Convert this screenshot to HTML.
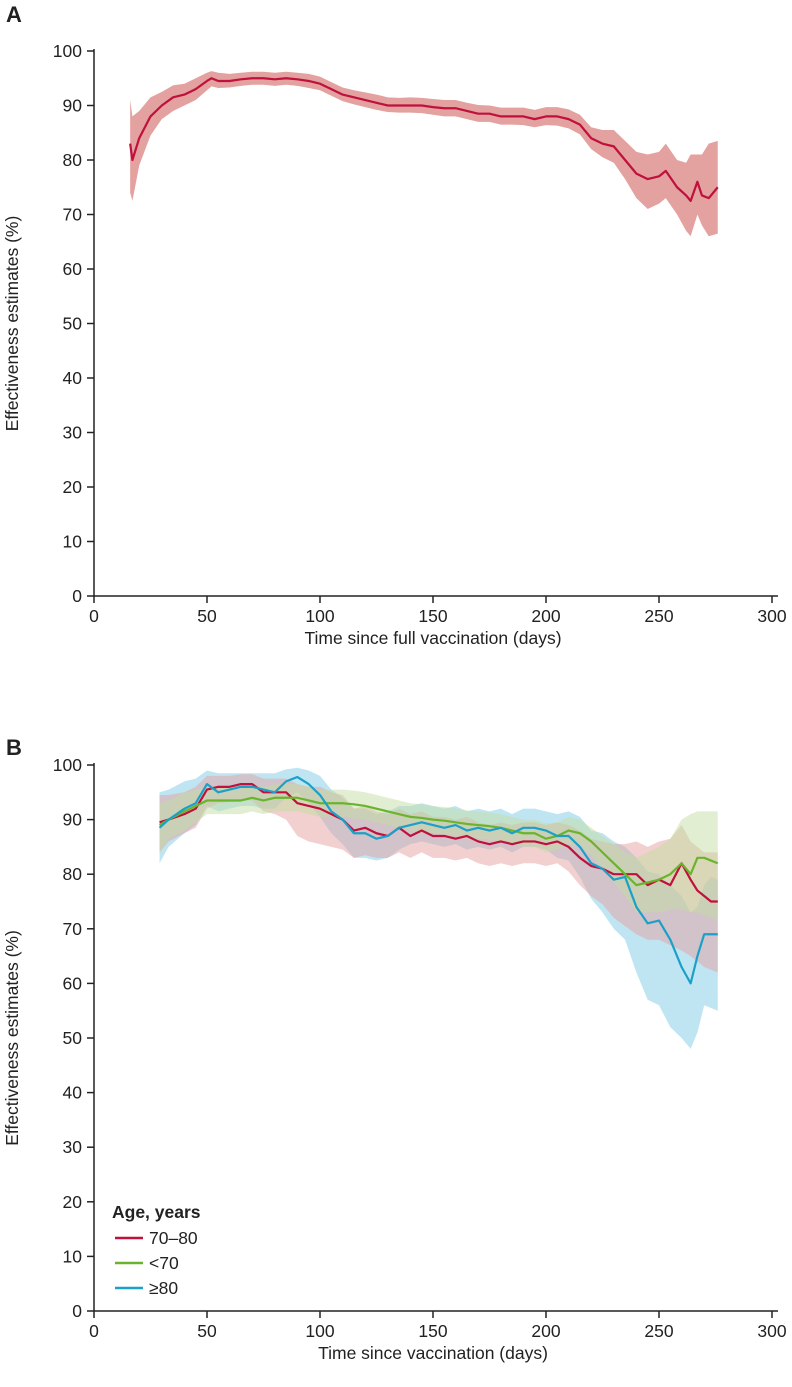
<!DOCTYPE html>
<html><head><meta charset="utf-8"><style>
body{margin:0;background:#fff;}
svg{display:block;font-family:"Liberation Sans",sans-serif;}
</style></head><body>
<svg id="chart" width="792" height="1387" viewBox="0 0 792 1387"></svg>
<script>
// Panel A data
const daysA=[16,17,20,25,30,35,40,45,50,52,55,60,65,70,75,80,85,90,95,100,105,110,115,120,125,130,135,140,145,150,155,160,165,170,175,180,185,190,195,200,205,210,215,220,225,230,235,240,245,250,253,258,262,264,267,269,272,276];
const estA=[83,80,84,88,90,91.5,92,93,94.5,95,94.5,94.5,94.8,95,95,94.8,95,94.8,94.5,94,93,92,91.5,91,90.5,90,90,90,90,89.7,89.5,89.5,89,88.5,88.5,88,88,88,87.5,88,88,87.5,86.5,84,83,82.5,80,77.5,76.5,77,78,75,73.5,72.5,76,73.5,73,75];
const loA=[74,72.5,79,84.5,87.5,89,90,91,92.8,93.5,93.2,93.3,93.6,93.8,93.8,93.6,93.8,93.6,93.2,92.8,91.8,90.8,90.2,89.7,89.2,88.8,88.7,88.7,88.6,88.3,88,88,87.5,87,87,86.5,86.5,86.4,86,86.4,86.3,85.8,84.7,82,80.5,79.5,76.5,73,71,72,73,70,67,66,70,68,66,66.5];
const hiA=[91,88,89,91.5,92.5,93.7,94,95,96,96.3,96,95.8,96,96.2,96.2,96,96.2,96,95.8,95.3,94.3,93.3,92.8,92.4,92,91.5,91.4,91.5,91.4,91.2,91,91,90.5,90.1,90,89.6,89.6,89.6,89.2,89.7,89.7,89.3,88.3,86,85.5,85.5,83.5,81.5,81,81.5,83,80,79.5,81,81,81,83,83.5];
// Panel B data
const daysB=[29,33,40,45,50,55,60,65,70,75,80,85,90,95,100,105,110,115,120,125,130,135,140,145,150,155,160,165,170,175,180,185,190,195,200,205,210,215,220,225,230,235,240,245,250,255,260,264,267,270,273,276];
const red=[89.5,90,91,92,95.5,96,96,96.5,96.5,95,95,95,93,92.5,92,91,90,88,88.5,87.5,87,88.5,87,88,87,87,86.5,87,86,85.5,86,85.5,86,86,85.5,86,85,83,81.5,81,80,80,80,78,79,78,82,79,77,76,75,75];
const redLo=[84,86,87.5,88.5,92,93,93.2,93.5,93.5,91.5,91,90,87,86,85.5,85,84.5,83,83.5,83,83,84,83,84,83,83,82.5,83,82,81.5,82,81.5,82,82,81.5,82,80.5,78,76,74.5,72,70.5,69,68,68,67,66,65,64,63,62.5,62];
const redHi=[94.5,94.5,95,96,98,98,98,98.3,98.3,97.5,97.5,97.5,96.5,96,96,95,94.5,92,92.5,91.5,91,92,91,91.5,90.5,90.5,90,90.5,89.5,89,89.5,89,89.5,89.5,89,89.5,89,88,86.5,86,85.5,85.5,86,85,86,86.5,89,86,85,84,84,84];
const grn=[89,90,91.5,92.5,93.5,93.5,93.5,93.5,94,93.5,94,94,94,93.5,93,93,93,92.8,92.5,92,91.5,91,90.5,90.3,90,89.8,89.5,89.2,89,88.8,88.5,88,87.5,87.5,86.5,87,88,87.5,86,84,82,80,78,78.5,79,80,82,80,83,83,82.5,82];
const grnLo=[84,86.5,88,89.5,91,91,91,91,91.5,91,91.5,91.5,91.5,91,90.5,90.5,90.5,90.3,90,89.5,89,88.5,88,87.8,87.5,87.3,87,86.7,86.5,86.3,86,85.5,85,85,84,84.5,85.5,85,83.5,81,78.5,76,73,73,73,73.5,73.5,73,73,72.5,72,71.5];
const grnHi=[93,93.5,95,95.5,96,96,96,96,96.5,96,96.5,96.5,96.5,96,95.5,95.5,95.5,95.3,95,94.5,94,93.5,93,92.8,92.5,92.3,92,91.7,91.5,91.3,91,90.5,90,90,89.3,89.5,90.5,90,88.5,87,85.5,84,83,84,85,86.5,90,91,91.5,91.5,91.5,91.5];
const blu=[88.5,90,92,93,96.5,95,95.5,96,96,95.5,95,97,97.8,96.5,94.5,91.5,90,87.5,87.5,86.5,87,88.5,89,89.5,89,88.5,89,88,88.5,88,88.5,87.5,88.5,88.5,88,87,87,85,82,81,79,79.5,74,71,71.5,68,63,60,65,69,69,69];
const bluLo=[82,85,87.5,89,92.5,91.5,92,92.5,92.5,92,92,94,95,93,90.5,87.5,85.5,83,83,82.5,83,84.5,85.5,86,85.5,85,85.5,84.5,85,84.5,85,84,85,85,84.5,83,82.5,79.5,75.5,73,70,68,62,57,56,52,50,48,51,56,55.5,55];
const bluHi=[95,95.5,97,97.5,99,98.5,98.5,98.5,98.5,98.5,98.5,99.2,99.5,99,98,95.5,94,92,92,91,91.5,92.5,92.5,93,92.5,92,92.5,91.5,92,91.5,92,91,92,92,91.5,91,91.5,90.5,88,87.5,86,85,83,80.5,80,78,76,73,74,78,79.5,79];
const yTicks=[0,10,20,30,40,50,60,70,80,90,100];
const xTicks=[0,50,100,150,200,250,300];

const svg=document.getElementById('chart');
const NS='http://www.w3.org/2000/svg';
function mk(tag,attrs,parent){const e=document.createElementNS(NS,tag);for(const k in attrs)e.setAttribute(k,attrs[k]);(parent||svg).appendChild(e);return e;}
const xS=d=>94+d*2.26;

function panel(y0,y100,label,labelY,xtitle,name){
  const yS=v=>y0+(y100-y0)*v/100;
  const g=mk('g',{});
  
  
  const t=mk('text',{x:6,y:labelY,'font-size':22,'font-weight':'bold',fill:'#222'},g);t.textContent=label;
  
  
  const ya=mk('line',{x1:94,y1:y100-2,x2:94,y2:y0,stroke:'#222','stroke-width':1.5},g);
  
  
  const xa=mk('line',{x1:94,y1:y0,x2:778,y2:y0,stroke:'#222','stroke-width':1.5},g);
  
  
  yTicks.forEach(v=>{
    mk('line',{x1:87,x2:94,y1:yS(v),y2:yS(v),stroke:'#222','stroke-width':1.5},g);
    const tt=mk('text',{x:82,y:yS(v)+6,'text-anchor':'end','font-size':17.5,fill:'#222'},g);tt.textContent=v;
    
    
  });
  xTicks.forEach(v=>{
    mk('line',{x1:xS(v),x2:xS(v),y1:y0,y2:y0+7,stroke:'#222','stroke-width':1.5},g);
    const tt=mk('text',{x:xS(v),y:y0+26,'text-anchor':'middle','font-size':17.5,fill:'#222'},g);tt.textContent=v;
    
    
  });
  const xt=mk('text',{x:433,y:y0+48,'text-anchor':'middle','font-size':17.5,fill:'#222'},g);xt.textContent=xtitle;
  
  
  const cy=(y0+y100)/2;
  const yt=mk('text',{x:0,y:0,transform:`translate(18,${cy}) rotate(-90)`,'text-anchor':'middle','font-size':17.5,fill:'#222'},g);yt.textContent='Effectiveness estimates (%)';
  
  
  return {g,yS};
}
function band(p,days,lo,hi,color,op,name){
  let d='M'+days.map((x,i)=>xS(x)+','+p.yS(hi[i])).join(' L');
  for(let i=days.length-1;i>=0;i--)d+=' L'+xS(days[i])+','+p.yS(lo[i]);
  const e=mk('path',{d:d+'Z',fill:color,'fill-opacity':op},p.g);
  
  
}
function line(p,days,v,color,name){
  const e=mk('path',{d:'M'+days.map((x,i)=>xS(x)+','+p.yS(v[i])).join(' L'),fill:'none',stroke:color,'stroke-width':2.2,'stroke-linejoin':'round'},p.g);
  
  
}
const A=panel(596,51,'A',22,'Time since full vaccination (days)','panel-a');
band(A,daysA,loA,hiA,'#e3a19f',1,'ci-band-a');
line(A,daysA,estA,'#c0103c','estimate-line-a');
const B=panel(1311,765,'B',755,'Time since vaccination (days)','panel-b');
band(B,daysB,bluLo,bluHi,'#a9dcee',0.75,'ci-band-80-plus');
band(B,daysB,redLo,redHi,'#e3a19f',0.5,'ci-band-70-80');
band(B,daysB,grnLo,grnHi,'#c3dea4',0.5,'ci-band-under-70');
line(B,daysB,red,'#c0103c','line-70-80');
line(B,daysB,grn,'#6ab42d','line-under-70');
line(B,daysB,blu,'#1ba0c8','line-80-plus');
const lg=mk('g',{});


const lt=mk('text',{x:112,y:1218,'font-size':17.5,'font-weight':'bold',fill:'#222'},lg);lt.textContent='Age, years';


[['70–80','#c0103c'],['<70','#6ab42d'],['≥80','#1ba0c8']].forEach((e,i)=>{
  const y=1238+i*25;
  const l=mk('line',{x1:115,x2:143,y1:y,y2:y,stroke:e[1],'stroke-width':2.5},lg);
  
  
  const t=mk('text',{x:149,y:y+6,'font-size':17.5,fill:'#222'},lg);t.textContent=e[0];
  
  
});
</script>
</body></html>
